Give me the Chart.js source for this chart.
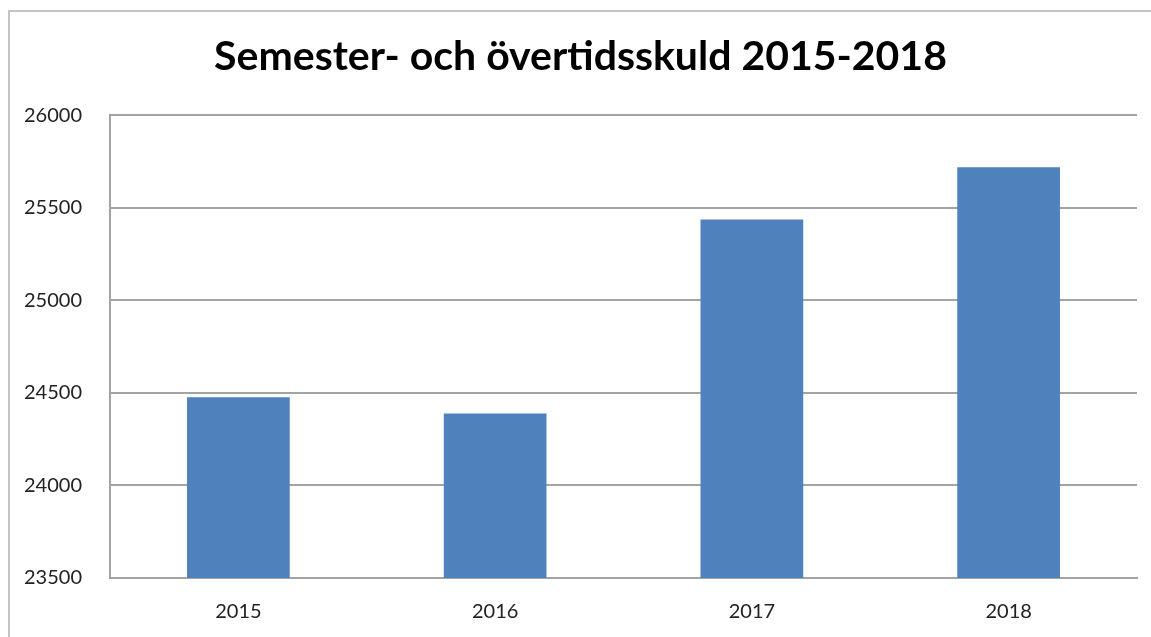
<!DOCTYPE html>
<html>
<head>
<meta charset="utf-8">
<script src="https://cdn.jsdelivr.net/npm/chart.js@4"></script>
<style>
  html, body { margin: 0; padding: 0; overflow: hidden; background: #fff; }
  #frame {
    position: absolute; left: 8px; top: 10px;
    width: 2000px; height: 2000px;
    border: 2px solid #c4c4c4;
  }
  #wrap { position: absolute; left: 0; top: 0; width: 1151px; height: 637px; }
</style>
</head>
<body>
<div id="frame"></div>
<div id="wrap"><canvas id="chart"></canvas></div>
<script>
// data
const years = ['2015', '2016', '2017', '2018'];
const skuld = [24476, 24388, 25437, 25719];
const yMin = 23500;
const yMax = 26000;
const yStep = 500;

const title = 'Semester- och övertidsskuld 2015-2018';
const gridGray = '#a3a3a3';

new Chart(document.getElementById('chart'), {
  type: 'bar',
  data: {
    labels: years,
    datasets: [
      {
        label: title,
        data: skuld,
        backgroundColor: '#4f81bd',
        borderWidth: 0,
        barPercentage: 0.4,
        categoryPercentage: 1,
      },
    ],
  },
  options: {
    responsive: true,
    maintainAspectRatio: false,
    animation: false,
    layout: { padding: { top: 0, left: 24, right: 14, bottom: 13 } },
    plugins: {
      legend: { display: false },
      tooltip: { enabled: false },
      title: {
        display: true,
        text: title,
        color: '#000',
        font: { family: 'Lato', size: 41, weight: 'bold' },
        padding: { top: 32, bottom: 34 },
      },
    },
    scales: {
      x: {
        afterFit: (axis) => { axis.height = 46; },
        grid: { display: false, drawTicks: false },
        border: { color: gridGray, width: 2 },
        ticks: {
          color: '#222',
          font: { family: 'Lato', size: 20 },
          padding: 22,
        },
      },
      y: {
        min: yMin,
        max: yMax,
        afterFit: (axis) => { axis.width = 86; },
        grid: { color: gridGray, lineWidth: 2, drawTicks: false },
        border: { color: gridGray, width: 2 },
        ticks: {
          stepSize: yStep,
          color: '#222',
          crossAlign: 'far',
          font: { family: 'Lato', size: 20 },
          callback: (v) => String(v),
        },
      },
    },
  },
});
</script>
</body>
</html>
